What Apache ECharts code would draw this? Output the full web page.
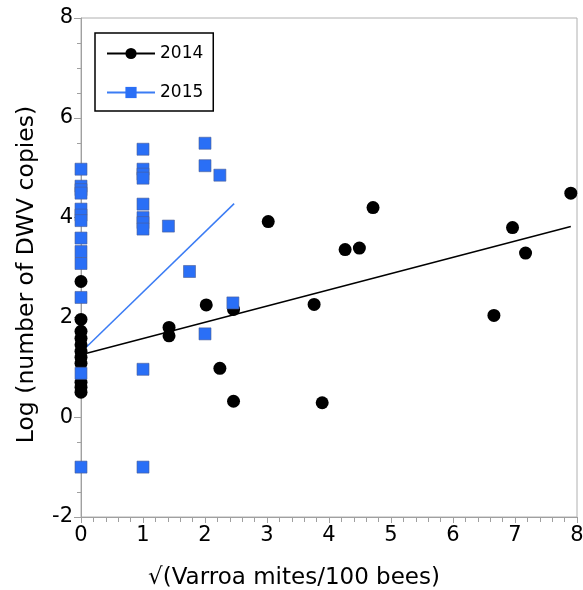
<!DOCTYPE html>
<html lang="en">
<head>
    <meta charset="UTF-8">
    <title>DWV vs Varroa</title>
    <script src="https://cdn.jsdelivr.net/npm/echarts@6/dist/echarts.min.js"></script>
    <style>
        html, body { margin: 0; padding: 0; background: #fff; }
        #chart { width: 583px; height: 590px; }
    </style>
</head>
<body>
<div id="chart"></div>
<script>
    // 2014 colonies
    var x2014 = [0, 0, 0, 0, 0, 0, 0, 0, 0, 0, 0,
        1.42, 1.42, 2.02, 2.46, 2.24, 2.46, 3.02, 3.76, 3.89, 4.26, 4.49, 4.71, 6.66, 6.96, 7.17, 7.9]
    var y2014 = [2.72, 1.96, 1.72, 1.58, 1.45, 1.32, 1.2, 1.08, 0.7, 0.6, 0.5,
        1.8, 1.63, 2.25, 2.16, 0.98, 0.32, 3.92, 2.26, 0.29, 3.36, 3.39, 4.2, 2.04, 3.8, 3.29, 4.49]
    // 2015 colonies
    var x2015 = [0, 0, 0, 0, 0, 0, 0, 0, 0, 0, 0, 0, 0,
        1, 1, 1, 1, 1, 1, 1, 1, 1, 1,
        1.41, 1.75, 2, 2, 2, 2.24, 2.45]
    var y2015 = [4.97, 4.63, 4.56, 4.49, 4.17, 4.05, 3.94, 3.59, 3.32, 3.08, 2.4, 0.88, -1.0,
        5.37, 4.97, 4.87, 4.79, 4.27, 4.0, 3.9, 3.77, 0.96, -1.0,
        3.83, 2.92, 5.49, 5.04, 1.67, 4.85, 2.29]
    // fitted lines (end points)
    var fit2014 = [[0, 1.25], [7.9, 3.82]]
    var fit2015 = [[0, 1.3], [2.47, 4.28]]

    var xTicks = {min: 0, max: 8, interval: 1}
    var yTicks = {min: -2, max: 8, interval: 2}

    function pairs(xs, ys) {
        var out = []
        for (var i = 0; i < xs.length; i++) {
            out.push([xs[i], ys[i]])
        }
        return out
    }

    var font = 'DejaVu Sans'
    var blue = '#2a6ff6'
    var blueLine = '#3b7cf4'

    var chart = echarts.init(document.getElementById('chart'))
    var option = {
        backgroundColor: '#fff',
        animation: false,
        textStyle: {fontFamily: font},
        grid: {
            left: 81, right: 6, top: 18, bottom: 73,
            outerBoundsMode: 'none', containLabel: false,
            show: true, borderColor: '#b0b0b0', borderWidth: 1
        },
        legend: {
            left: 95, top: 33,
            orient: 'vertical',
            borderColor: '#000', borderWidth: 1.5,
            padding: [12, 10, 10, 11],
            itemWidth: 48, itemHeight: 14, itemGap: 22,
            textStyle: {fontFamily: font, fontSize: 17, color: '#000'},
            data: ['2014', '2015']
        },
        xAxis: {
            type: 'value',
            min: xTicks.min, max: xTicks.max, interval: xTicks.interval,
            name: '√(Varroa mites/100 bees)',
            nameLocation: 'middle', nameGap: 50,
            nameTextStyle: {fontFamily: font, fontSize: 23, color: '#000', padding: [0, 70, 0, 0]},
            axisLine: {onZero: false, lineStyle: {color: '#a0a0a0'}},
            axisTick: {length: 6, lineStyle: {color: '#a0a0a0'}},
            minorTick: {show: true, splitNumber: 5, length: 5, lineStyle: {color: '#a0a0a0'}},
            splitLine: {show: false},
            axisLabel: {fontFamily: font, fontSize: 21, color: '#000', margin: 8}
        },
        yAxis: {
            type: 'value',
            min: yTicks.min, max: yTicks.max, interval: yTicks.interval,
            name: 'Log (number of DWV copies)',
            nameLocation: 'middle', nameGap: 42,
            nameTextStyle: {fontFamily: font, fontSize: 23.5, color: '#000', padding: [0, 14, 0, 0]},
            axisLine: {onZero: false, lineStyle: {color: '#a0a0a0'}},
            axisTick: {length: 7, lineStyle: {color: '#a0a0a0'}},
            minorTick: {show: true, splitNumber: 4, length: 4, lineStyle: {color: '#a0a0a0'}},
            splitLine: {show: false},
            axisLabel: {fontFamily: font, fontSize: 21, color: '#000', margin: 8}
        },
        series: [
            {
                name: '2014', type: 'line', data: fit2014,
                symbol: 'circle', symbolSize: 13, showSymbol: false,
                itemStyle: {color: '#000'},
                lineStyle: {color: '#000', width: 1.5}, z: 2
            },
            {
                name: '2015', type: 'line', data: fit2015,
                symbol: 'rect', symbolSize: 12, showSymbol: false,
                itemStyle: {color: blue},
                lineStyle: {color: blueLine, width: 1.5}, z: 2
            },
            {
                name: '2014', type: 'scatter', data: pairs(x2014, y2014),
                symbol: 'circle', symbolSize: 13,
                itemStyle: {color: '#000', opacity: 1}, z: 3
            },
            {
                name: '2015', type: 'scatter', data: pairs(x2015, y2015),
                symbol: 'rect', symbolSize: 12,
                itemStyle: {color: blue, borderColor: '#4b5e95', borderWidth: 0.6, opacity: 1}, z: 4
            }
        ]
    }
    chart.setOption(option)
</script>
</body>
</html>
